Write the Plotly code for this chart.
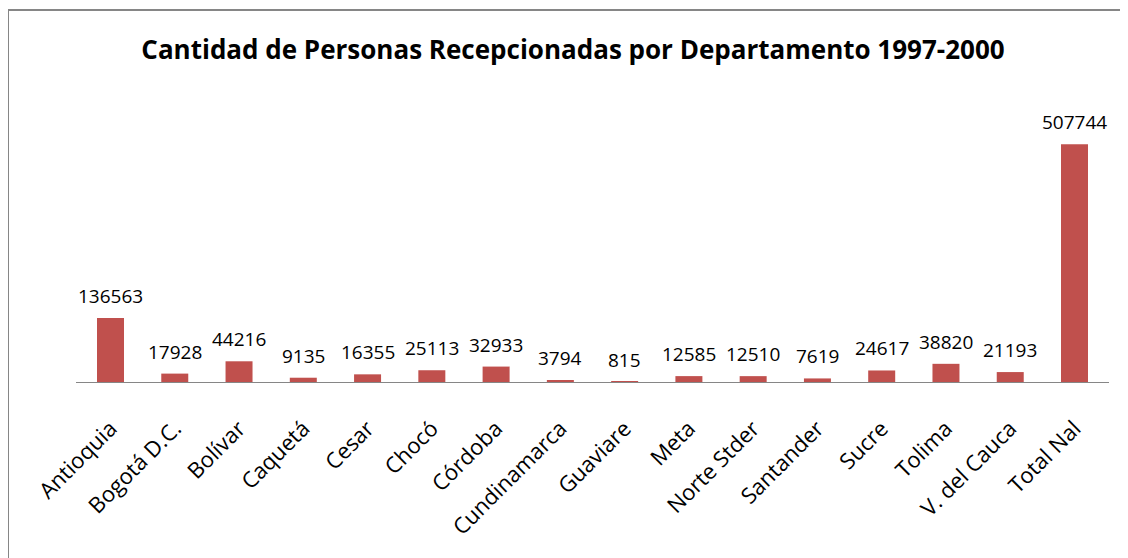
import plotly.graph_objects as go

departamentos = ["Antioquia", "Bogotá D.C.", "Bolívar", "Caquetá", "Cesar", "Chocó",
                 "Córdoba", "Cundinamarca", "Guaviare", "Meta", "Norte Stder",
                 "Santander", "Sucre", "Tolima", "V. del Cauca", "Total Nal"]
personas = [136563, 17928, 44216, 9135, 16355, 25113, 32933, 3794, 815,
            12585, 12510, 7619, 24617, 38820, 21193, 507744]

W, H = 1128, 558
OFF = 8  # page body margin offset
L, T = 76 - OFF, 101 - OFF
pw, ph = 1033, 281
R, B = W - L - pw, H - T - ph

fig = go.Figure(go.Bar(
    x=departamentos, y=personas,
    marker=dict(color="#C0504D", line=dict(width=0)),
    width=0.42,
    cliponaxis=False,
))

for d, v in zip(departamentos, personas):
    fig.add_annotation(x=d, y=v, xref="x", yref="y", text=str(v), showarrow=False,
                       yanchor="middle", yshift=22,
                       font=dict(family="Open Sans", size=19, color="#000000"))

def px_x(x):
    return (x - L) / pw

def px_y(y):
    return (H - B - y) / ph

fig.update_layout(
    width=W, height=H,
    margin=dict(l=L, r=R, t=T, b=B, autoexpand=False),
    paper_bgcolor="white", plot_bgcolor="white",
    title=dict(text="<b>Cantidad de Personas Recepcionadas por Departamento 1997-2000</b>",
               x=(573 - OFF) / W, xref="container", xanchor="center",
               y=1 - (50 - OFF) / H, yanchor="middle",
               font=dict(family="Open Sans", size=26, color="#000000")),
    xaxis=dict(tickangle=-45, tickfont=dict(family="Open Sans", size=22, color="#000000"),
               showline=True, linecolor="#868686", linewidth=1, showgrid=False,
               ticks="", ticklen=0, automargin=False, ticklabelstandoff=24),
    yaxis=dict(range=[0, 600000], visible=False, showgrid=False, automargin=False),
    showlegend=False,
    shapes=[
        dict(type="line", xref="paper", yref="paper",
             x0=px_x(0), x1=px_x(1140), y0=px_y(2), y1=px_y(2),
             line=dict(color="#868686", width=2)),
        dict(type="line", xref="paper", yref="paper",
             x0=px_x(0), x1=px_x(0), y0=px_y(2), y1=px_y(570),
             line=dict(color="#868686", width=2)),
    ],
)

fig.write_html("out.html")
